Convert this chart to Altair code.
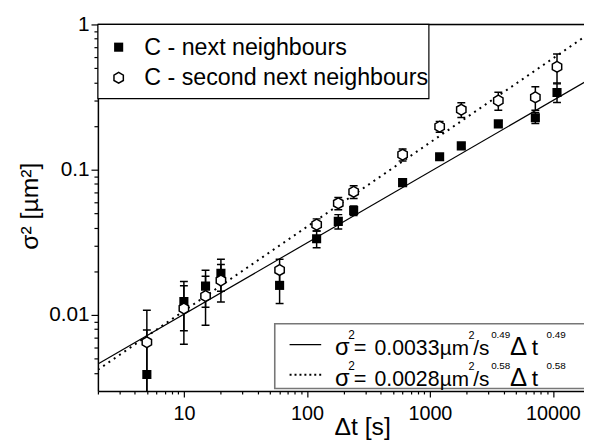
import altair as alt
import pandas as pd

# ---------------- data ----------------
t_values = [5, 10, 15, 20, 60, 120, 180, 240, 600, 1200, 1800, 3600, 7200, 10800]
next_sigma2 = [0.0039, 0.0124, 0.0158, 0.0194, 0.0160, 0.0335, 0.0441, 0.0524,
               0.0816, 0.123, 0.146, 0.207, 0.228, 0.340]
next_err = [0.0040, 0.0046, 0.0045, 0.0048, 0.0040, 0.0044, 0.0050, 0.0040,
            0.0030, 0.0050, 0.0060, 0.0100, 0.0200, 0.0500]
second_sigma2 = [0.0065, 0.0111, 0.0135, 0.0173, 0.0204, 0.0419, 0.0588, 0.0705,
                 0.127, 0.198, 0.259, 0.299, 0.315, 0.511]
second_err = [0.0043, 0.0048, 0.0050, 0.0050, 0.0038, 0.0040, 0.0057, 0.0070,
              0.012, 0.017, 0.030, 0.042, 0.058, 0.115]

fit_t = [2, 18000]
fit_solid = [0.0046, 0.40]     # sigma^2 = 0.0033 t^0.49
fit_dotted = [0.0042, 0.82]    # sigma^2 = 0.0028 t^0.58

series_names = ["C - next neighbours", "C - second next neighbours"]

x_ticks = [2, 3, 4, 5, 6, 7, 8, 9, 10, 20, 30, 40, 50, 60, 70, 80, 90, 100,
           200, 300, 400, 500, 600, 700, 800, 900, 1000, 2000, 3000, 4000, 5000,
           6000, 7000, 8000, 9000, 10000]
x_major = [10, 100, 1000, 10000]
x_major_labels = ["10", "100", "1000", "10000"]
y_ticks = [0.004, 0.005, 0.006, 0.007, 0.008, 0.009, 0.01, 0.02, 0.03, 0.04,
           0.05, 0.06, 0.07, 0.08, 0.09, 0.1, 0.2, 0.3, 0.4, 0.5, 0.6, 0.7,
           0.8, 0.9, 1]
y_major = [0.01, 0.1, 1]
y_major_labels = ["0.01", "0.1", "1"]

# ---------------- tables ----------------
rows = []
for name, ys, es in [(series_names[0], next_sigma2, next_err),
                     (series_names[1], second_sigma2, second_err)]:
    for t, y, e in zip(t_values, ys, es):
        rows.append({"t": t, "s2": y, "series": name,
                     "lo": max(y - e, 1e-4), "hi": y + e})
df = pd.DataFrame(rows)
df_fit_solid = pd.DataFrame({"t": fit_t, "s2": fit_solid})
df_fit_dotted = pd.DataFrame({"t": fit_t, "s2": fit_dotted})

W, H = 492, 371
FONT = "Liberation Sans"
HEX = "M0,-1L0.866,-0.5L0.866,0.5L0,1L-0.866,0.5L-0.866,-0.5Z"


def label_expr(vals, labels):
    expr = "''"
    for v, l in zip(vals, labels):
        expr = f"datum.value == {v} ? '{l}' : ({expr})"
    return expr


def major_test(vals):
    return "indexof([" + ",".join(str(v) for v in vals) + "], datum.value) >= 0"


xscale = alt.Scale(type="log", domain=[2, 17900], nice=False)
yscale = alt.Scale(type="log", domain=[0.003, 1], nice=False)

xaxis = alt.Axis(values=x_ticks, labelExpr=label_expr(x_major, x_major_labels),
                 tickSize={"condition": {"test": major_test(x_major), "value": 6}, "value": 3},
                 labelFontSize=20, labelPadding=7, labelOverlap=False, labelFlush=False,
                 domainWidth=1.5, tickWidth=1.2, domainColor="black", tickColor="black",
                 labelColor="black", grid=False, title=None, labelFont=FONT)
yaxis = alt.Axis(values=y_ticks, labelExpr=label_expr(y_major, y_major_labels),
                 tickSize={"condition": {"test": major_test(y_major), "value": 7}, "value": 4},
                 labelFontSize=21, labelPadding=2, labelOverlap=False, labelFlush=False,
                 domainWidth=1.5, tickWidth=1.2, domainColor="black", tickColor="black",
                 labelColor="black", grid=False, title=None, labelFont=FONT)

X = alt.X("t:Q", scale=xscale, axis=xaxis)
Y = alt.Y("s2:Q", scale=yscale, axis=yaxis)

base = alt.Chart(df)

solid = alt.Chart(df_fit_solid).mark_line(clip=True, color="black", strokeWidth=1.2).encode(
    x=alt.X("t:Q", scale=xscale), y=alt.Y("s2:Q", scale=yscale))
dotted = alt.Chart(df_fit_dotted).mark_line(clip=True, color="black", strokeWidth=2,
                                            strokeDash=[2, 4.5]).encode(
    x=alt.X("t:Q", scale=xscale), y=alt.Y("s2:Q", scale=yscale))

bars = base.mark_rule(clip=True, color="black", strokeWidth=1.5).encode(
    x=alt.X("t:Q", scale=xscale), y=alt.Y("lo:Q", scale=yscale), y2="hi:Q")
cap_hi = base.mark_tick(clip=True, color="black", orient="horizontal", size=8,
                        thickness=1.5, opacity=1).encode(
    x=alt.X("t:Q", scale=xscale), y=alt.Y("hi:Q", scale=yscale))
cap_lo = base.mark_tick(clip=True, color="black", orient="horizontal", size=8,
                        thickness=1.5, opacity=1).encode(
    x=alt.X("t:Q", scale=xscale), y=alt.Y("lo:Q", scale=yscale))

squares = base.transform_filter(alt.datum.series == series_names[0]).mark_point(
    shape="square", filled=True, size=85, color="black", opacity=1, clip=True).encode(x=X, y=Y)
hexes = base.transform_filter(alt.datum.series == series_names[1]).mark_point(
    shape=HEX, filled=True, fill="white", stroke="black", strokeWidth=1.5, size=120,
    opacity=1, clip=True).encode(x=alt.X("t:Q", scale=xscale), y=alt.Y("s2:Q", scale=yscale))

one = alt.InlineData(values=[{"k": 0}])


def txt(s, x, y, size, **kw):
    return alt.Chart(one).mark_text(text=s, fontSize=size, font=FONT, color="black",
                                    align=kw.pop("align", "left"),
                                    baseline=kw.pop("baseline", "alphabetic"), **kw).encode(
        x=alt.value(x), y=alt.value(y))


def rect(x, x2, y, y2, stroke, sw):
    return alt.Chart(one).mark_rect(fill="white", stroke=stroke, strokeWidth=sw).encode(
        x=alt.value(x), x2=alt.value(x2), y=alt.value(y), y2=alt.value(y2))


def hline(x, x2, y, sw, dash=None):
    kw = {"strokeDash": dash} if dash else {}
    return alt.Chart(one).mark_rule(color="black", strokeWidth=sw, **kw).encode(
        x=alt.value(x), x2=alt.value(x2), y=alt.value(y))


# top frame
frame_top = hline(0, W, 0, 1.5)

# legend 1
leg1 = [
    rect(0, 335, 0, 75, "black", 1.2),
    alt.Chart(one).mark_point(shape="square", filled=True, size=85, color="black", opacity=1).encode(
        x=alt.value(21), y=alt.value(23)),
    alt.Chart(one).mark_point(shape=HEX, filled=True, fill="white", stroke="black",
                              strokeWidth=1.5, size=120, opacity=1).encode(
        x=alt.value(21), y=alt.value(54)),
    txt(series_names[0], 47, 31, 23.5),
    txt(series_names[1], 47, 61.5, 23.5),
]

# legend 2
leg2 = [rect(179, 520, 303, 368.5, "#777777", 1.6),
        hline(194, 226, 324, 1.2),
        hline(194, 226, 354.5, 2, [2, 3])]
for base_y, coef, expo in [(334.7, "0.0033", "0.49"), (365.5, "0.0028", "0.58")]:
    sup_y = base_y - 17
    leg2 += [
        txt("σ", 240, base_y, 24),
        txt("2", 253.5, sup_y + 1, 12),
        txt("=", 259, base_y, 22),
        txt(coef, 280, base_y, 21.5),
        txt("µm", 346, base_y, 21),
        txt("2", 375, sup_y + 1, 11),
        txt("/s", 380, base_y, 21),
        txt(expo, 398, sup_y, 10),
        txt("Δ", 417, base_y, 26),
        txt("t", 439, base_y, 23),
        txt(expo, 454, sup_y, 10),
    ]

# axis titles
xtitle = txt("Δt [s]", 268, 416, 25, align="center")
ytitle = txt("σ² [µm²]", -69, 184, 25, align="center", baseline="middle", angle=270)

chart = alt.layer(solid, dotted, bars, cap_hi, cap_lo, squares, hexes, frame_top,
                  *leg1, *leg2, xtitle, ytitle).properties(
    width=W, height=H,
    autosize=alt.AutoSizeParams(type="none"),
    padding={"left": 91, "top": 14, "right": 0, "bottom": 52},
).configure_view(stroke=None).configure(font=FONT)

chart.save("out.html", embed_options={"renderer": "svg", "actions": False})
